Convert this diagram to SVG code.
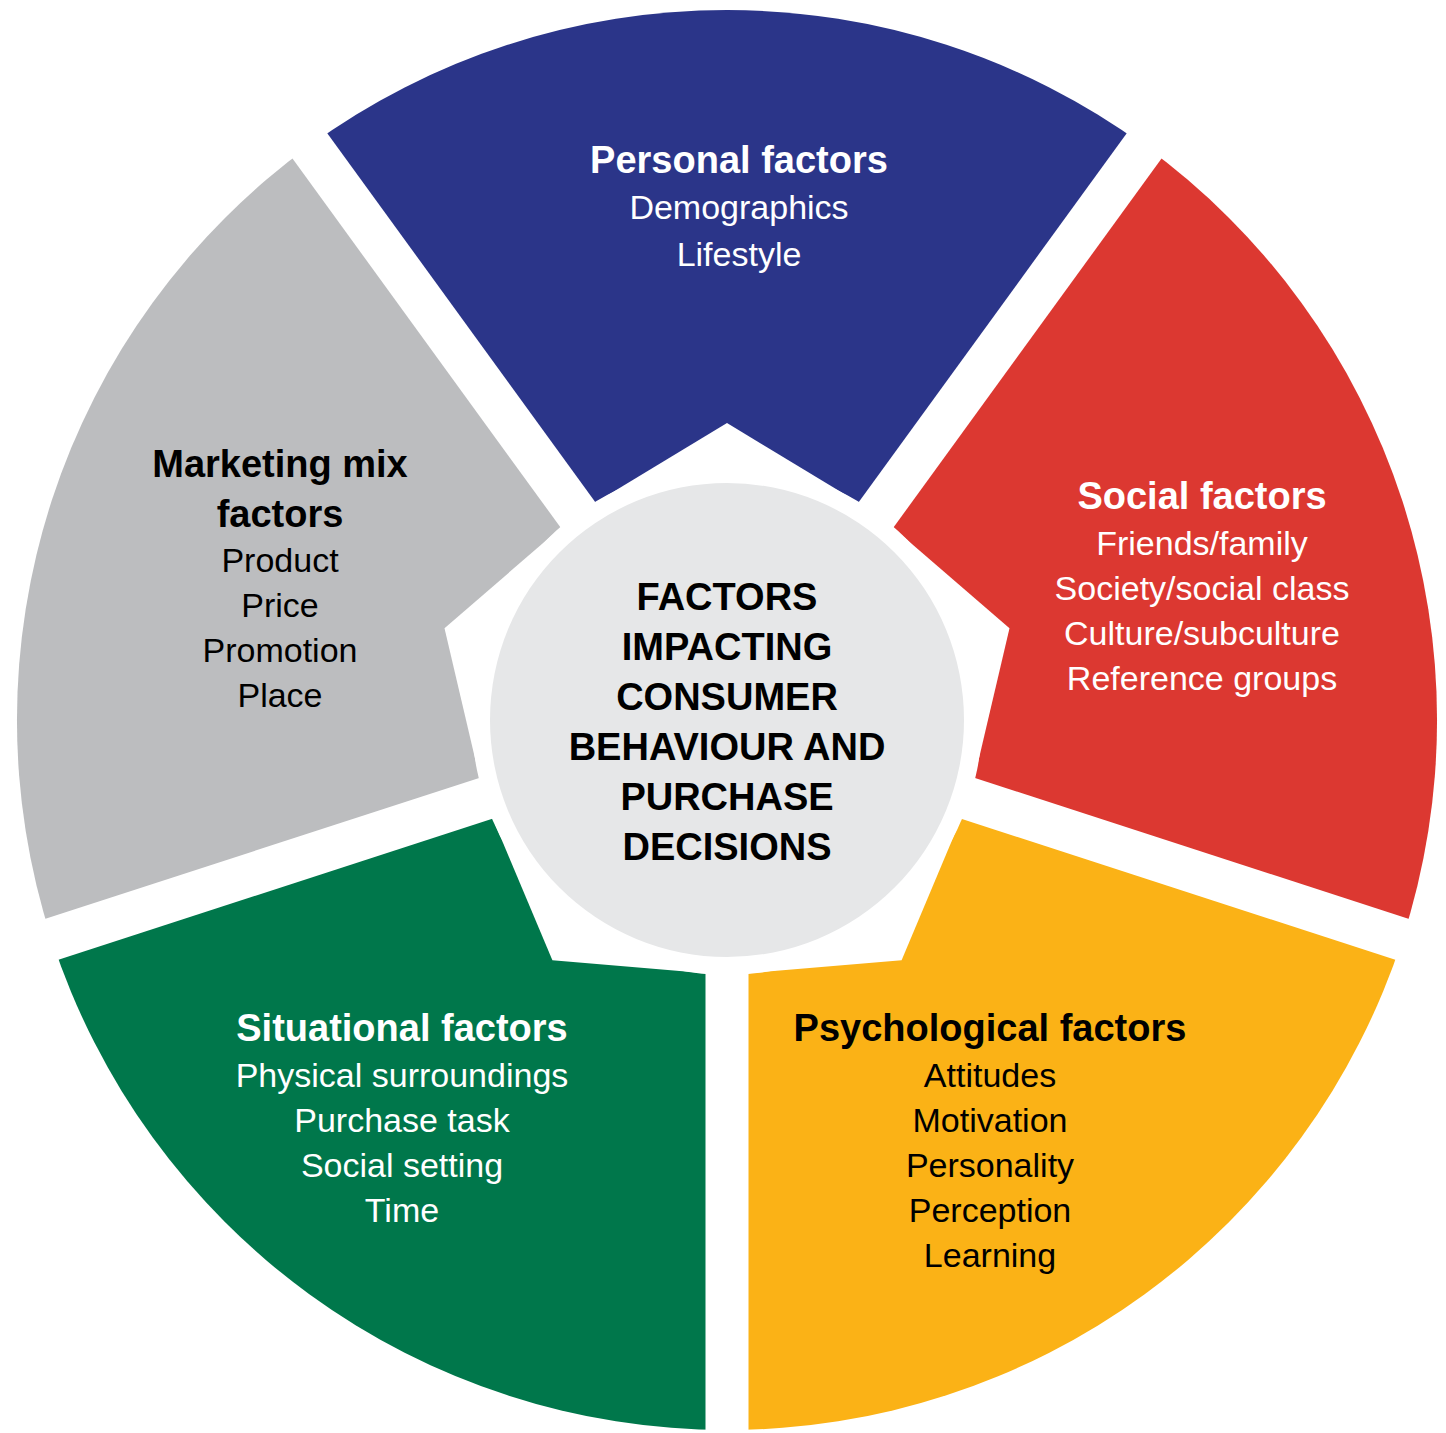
<svg xmlns="http://www.w3.org/2000/svg" width="1446" height="1433" viewBox="0 0 1446 1433">
<style>
text{font-family:"Liberation Sans",Arial,sans-serif;text-anchor:middle;font-size:34px}
.h{font-weight:bold;font-size:38px}
.w{fill:#fff}.k{fill:#000}
</style>
<rect width="1446" height="1433" fill="#fff"/>
<g id="segments">
<path id="personal" d="M727 720 L309.7 145.6 A710 710 0 0 1 1144.3 145.6 Z" fill="#2b3589"/>
<path id="social" d="M727 720 L1144.3 145.6 A710 710 0 0 1 1402.3 939.4 Z" fill="#dc3831"/>
<path id="psychological" d="M727 720 L1402.3 939.4 A710 710 0 0 1 727 1430 Z" fill="#fbb216"/>
<path id="situational" d="M727 720 L727 1430 A710 710 0 0 1 51.7 939.4 Z" fill="#00774b"/>
<path id="marketing" d="M727 720 L51.7 939.4 A710 710 0 0 1 309.7 145.6 Z" fill="#bcbdbf"/>
</g>
<g id="gaps" stroke="#fff" stroke-width="43">
<line x1="727" y1="720" x2="256.8" y2="72.8"/>
<line x1="727" y1="720" x2="1197.2" y2="72.8"/>
<line x1="727" y1="720" x2="1487.9" y2="967.2"/>
<line x1="727" y1="720" x2="727" y2="1520"/>
<line x1="727" y1="720" x2="-33.9" y2="967.2"/>
</g>
<g id="center">
<polygon points="727,423 876.9,513.7 1009.5,628.2 969.5,798.8 901.6,960.3 727,975 552.4,960.3 484.5,798.8 444.5,628.2 577.1,513.7" fill="#fff"/>
<circle cx="727" cy="720" r="255" fill="#fff"/>
<circle cx="727" cy="720" r="237" fill="#e6e7e8"/>
<text class="h k" x="727" y="610">FACTORS</text>
<text class="h k" x="727" y="660">IMPACTING</text>
<text class="h k" x="727" y="710">CONSUMER</text>
<text class="h k" x="727" y="760">BEHAVIOUR AND</text>
<text class="h k" x="727" y="810">PURCHASE</text>
<text class="h k" x="727" y="860">DECISIONS</text>
</g>
<g id="personal-text" class="w">
<text class="h w" x="739" y="173">Personal factors</text>
<text class="w" x="739" y="219">Demographics</text>
<text class="w" x="739" y="266">Lifestyle</text>
</g>
<g id="social-text">
<text class="h w" x="1202" y="509">Social factors</text>
<text class="w" x="1202" y="555">Friends/family</text>
<text class="w" x="1202" y="600">Society/social class</text>
<text class="w" x="1202" y="645">Culture/subculture</text>
<text class="w" x="1202" y="690">Reference groups</text>
</g>
<g id="marketing-text">
<text class="h k" x="280" y="477">Marketing mix</text>
<text class="h k" x="280" y="527">factors</text>
<text class="k" x="280" y="572">Product</text>
<text class="k" x="280" y="617">Price</text>
<text class="k" x="280" y="662">Promotion</text>
<text class="k" x="280" y="707">Place</text>
</g>
<g id="situational-text">
<text class="h w" x="402" y="1041">Situational factors</text>
<text class="w" x="402" y="1087">Physical surroundings</text>
<text class="w" x="402" y="1132">Purchase task</text>
<text class="w" x="402" y="1177">Social setting</text>
<text class="w" x="402" y="1222">Time</text>
</g>
<g id="psychological-text">
<text class="h k" x="990" y="1041">Psychological factors</text>
<text class="k" x="990" y="1087">Attitudes</text>
<text class="k" x="990" y="1132">Motivation</text>
<text class="k" x="990" y="1177">Personality</text>
<text class="k" x="990" y="1222">Perception</text>
<text class="k" x="990" y="1267">Learning</text>
</g>
</svg>
